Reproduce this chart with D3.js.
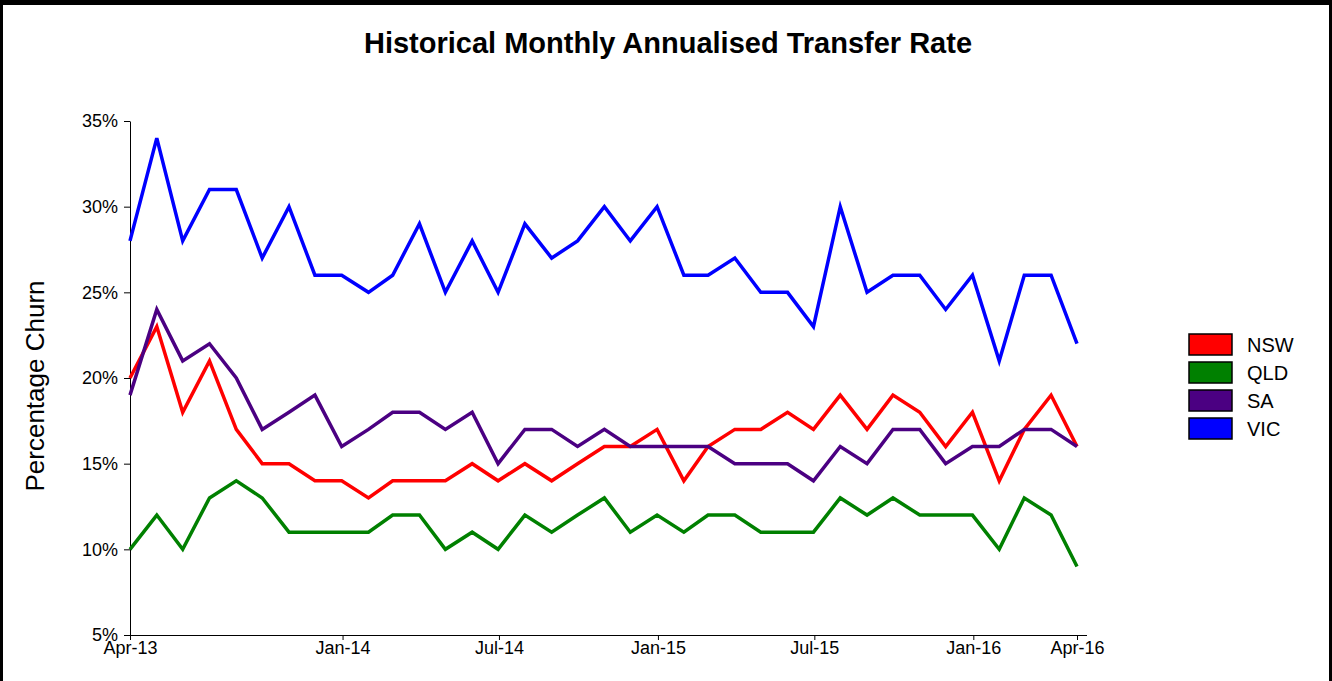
<!DOCTYPE html>
<html>
<head>
<meta charset="utf-8">
<script src="https://cdn.jsdelivr.net/npm/d3@7"></script>
<style>
  body { margin: 0; background: #fff; }
  svg { display: block; font-family: "Liberation Sans", Arial, sans-serif; }
</style>
</head>
<body>
<div id="chart"></div>
<script>
// month-end dates for each observation
const months = [
    "2013-04-30", "2013-05-31", "2013-06-30", "2013-07-31", "2013-08-31", "2013-09-30",
    "2013-10-31", "2013-11-30", "2013-12-31", "2014-01-31", "2014-02-28", "2014-03-31",
    "2014-04-30", "2014-05-31", "2014-06-30", "2014-07-31", "2014-08-31", "2014-09-30",
    "2014-10-31", "2014-11-30", "2014-12-31", "2015-01-31", "2015-02-28", "2015-03-31",
    "2015-04-30", "2015-05-31", "2015-06-30", "2015-07-31", "2015-08-31", "2015-09-30",
    "2015-10-31", "2015-11-30", "2015-12-31", "2016-01-31", "2016-02-29", "2016-03-31",
    "2016-04-30"
];

const nsw = [20, 23, 18, 21, 17, 15, 15, 14, 14, 13, 14, 14, 14, 15, 14, 15, 14, 15, 16, 16,
    17, 14, 16, 17, 17, 18, 17, 19, 17, 19, 18, 16, 18, 14, 17, 19, 16];
const qld = [10, 12, 10, 13, 14, 13, 11, 11, 11, 11, 12, 12, 10, 11, 10, 12, 11, 12, 13, 11,
    12, 11, 12, 12, 11, 11, 11, 13, 12, 13, 12, 12, 12, 10, 13, 12, 9];
const sa = [19, 24, 21, 22, 20, 17, 18, 19, 16, 17, 18, 18, 17, 18, 15, 17, 17, 16, 17, 16,
    16, 16, 16, 15, 15, 15, 14, 16, 15, 17, 17, 15, 16, 16, 17, 17, 16];
const vic = [28, 34, 28, 31, 31, 27, 30, 26, 26, 25, 26, 29, 25, 28, 25, 29, 27, 28, 30, 28,
    30, 26, 26, 27, 25, 25, 23, 30, 25, 26, 26, 24, 26, 21, 26, 26, 22];

const seriesNames = ["NSW", "QLD", "SA", "VIC"];
const seriesValues = [nsw, qld, sa, vic];
const seriesColors = ["#ff0000", "#008000", "#4b0082", "#0000ff"];

const tickDates = ["2013-04-30", "2014-01-01", "2014-07-01", "2015-01-01", "2015-07-01", "2016-01-01", "2016-04-30"];
const tickLabels = ["Apr-13", "Jan-14", "Jul-14", "Jan-15", "Jul-15", "Jan-16", "Apr-16"];
const yTicks = [0.05, 0.10, 0.15, 0.20, 0.25, 0.30, 0.35];

const width = 1332;
const height = 681;
const plot = { left: 130, right: 1077, top: 121, bottom: 635 };

const parse = d3.timeParse("%Y-%m-%d");
const dates = months.map(parse);

const svg = d3.select("#chart")
    .append("svg")
    .attr("width", width)
    .attr("height", height);

// frame round the page (bottom edge is off-screen)
svg.append("rect").attr("x", 0).attr("y", 0).attr("width", width).attr("height", 5).attr("fill", "#000");
svg.append("rect").attr("x", 0).attr("y", 0).attr("width", 3).attr("height", height).attr("fill", "#000");
svg.append("rect").attr("x", width - 3).attr("y", 0).attr("width", 3).attr("height", height).attr("fill", "#000");

const x = d3.scaleTime()
    .domain(d3.extent(dates))
    .range([plot.left, plot.right]);

const y = d3.scaleLinear()
    .domain([0.05, 0.35])
    .range([plot.bottom, plot.top]);

// title
svg.append("text")
    .attr("x", 668)
    .attr("y", 53)
    .attr("text-anchor", "middle")
    .attr("font-size", "29px")
    .attr("font-weight", "bold")
    .text("Historical Monthly Annualised Transfer Rate");

// y axis label
svg.append("text")
    .attr("transform", `translate(44, ${(plot.top + plot.bottom) / 2 + 8}) rotate(-90)`)
    .attr("text-anchor", "middle")
    .attr("font-size", "26px")
    .text("Percentage Churn");

// x axis
const xAxis = svg.append("g")
    .attr("transform", `translate(0, ${plot.bottom})`)
    .call(d3.axisBottom(x)
        .tickValues(tickDates.map(parse))
        .tickFormat((d, i) => tickLabels[i])
        .tickSizeInner(5)
        .tickSizeOuter(0));
xAxis.select(".domain").attr("d", `M${plot.left},0.5H${plot.right + 10}`);
xAxis.selectAll("text")
    .attr("font-size", "18px")
    .attr("font-family", "Liberation Sans, Arial, sans-serif")
    .attr("fill", "#000")
    .attr("dy", "0.71em")
    .attr("y", 6);

// y axis
const yAxis = svg.append("g")
    .attr("transform", `translate(${plot.left}, 0)`)
    .call(d3.axisLeft(y)
        .tickValues(yTicks)
        .tickFormat(d3.format(".0%"))
        .tickSizeInner(6)
        .tickSizeOuter(0));
yAxis.selectAll("text")
    .attr("font-size", "18px")
    .attr("font-family", "Liberation Sans, Arial, sans-serif")
    .attr("fill", "#000")
    .attr("x", -12);

// lines
const line = d3.line()
    .x((d, i) => x(dates[i]))
    .y(d => y(d / 100));

seriesValues.forEach((vals, s) => {
    svg.append("path")
        .datum(vals)
        .attr("fill", "none")
        .attr("stroke", seriesColors[s])
        .attr("stroke-width", 3.5)
        .attr("d", line);
});

// legend
const legend = svg.append("g")
    .attr("transform", "translate(1189, 334)");

seriesNames.forEach((name, i) => {
    legend.append("rect")
        .attr("x", 0)
        .attr("y", i * 28)
        .attr("width", 43)
        .attr("height", 21)
        .attr("fill", seriesColors[i])
        .attr("stroke", "#000")
        .attr("stroke-width", 1.5);

    legend.append("text")
        .attr("x", 58)
        .attr("y", i * 28 + 18)
        .attr("font-size", "20px")
        .text(name);
});
</script>
</body>
</html>
